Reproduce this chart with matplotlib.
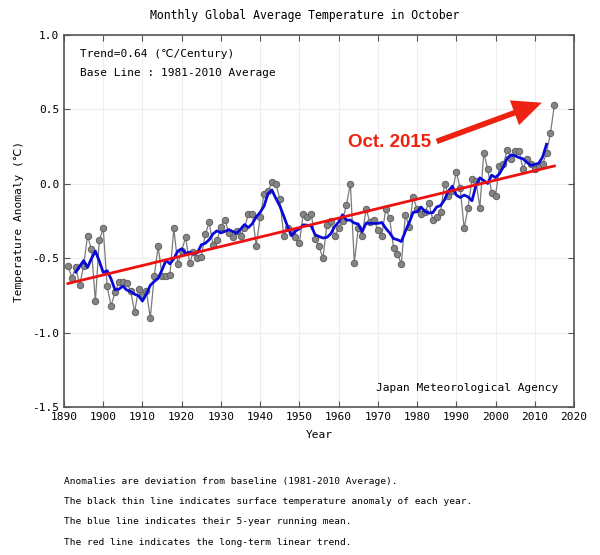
import numpy as np
import matplotlib
matplotlib.use('Agg')
from matplotlib import pyplot as plt

plt.rcParams['font.family'] = ['DejaVu Sans Mono', 'DejaVu Sans']

# October anomalies (deg C, vs 1981-2010)
years = list(range(1891, 2016))
anomaly = [
    -0.55, -0.63, -0.56, -0.68, -0.55, -0.35, -0.44, -0.79, -0.38, -0.30,   # 1891-1900
    -0.69, -0.82, -0.73, -0.66, -0.66, -0.67, -0.72, -0.86, -0.71, -0.75,   # 1901-1910
    -0.72, -0.90, -0.62, -0.42, -0.62, -0.62, -0.61, -0.30, -0.54, -0.45,   # 1911-1920
    -0.36, -0.53, -0.46, -0.50, -0.49, -0.34, -0.26, -0.41, -0.38, -0.29,   # 1921-1930
    -0.24, -0.33, -0.36, -0.32, -0.35, -0.30, -0.20, -0.20, -0.42, -0.22,   # 1931-1940
    -0.07, -0.05, 0.01, 0.00, -0.10, -0.35, -0.30, -0.33, -0.36, -0.40,     # 1941-1950
    -0.20, -0.22, -0.20, -0.37, -0.42, -0.50, -0.28, -0.25, -0.35, -0.30,   # 1951-1960
    -0.25, -0.14, 0.00, -0.53, -0.30, -0.35, -0.17, -0.26, -0.24, -0.31,    # 1961-1970
    -0.35, -0.17, -0.23, -0.43, -0.47, -0.54, -0.21, -0.29, -0.09, -0.17,   # 1971-1980
    -0.20, -0.19, -0.13, -0.24, -0.22, -0.19, 0.00, -0.08, -0.05, 0.08,     # 1981-1990
    -0.03, -0.30, -0.16, 0.03, 0.02, -0.16, 0.21, 0.10, -0.06, -0.08,       # 1991-2000
    0.12, 0.13, 0.23, 0.17, 0.22, 0.22, 0.10, 0.17, 0.13, 0.10,             # 2001-2010
    0.12, 0.13, 0.21, 0.34, 0.53,                                           # 2011-2015
]

# long-term linear trend end points
trend_years = [1891, 2015]
trend_values = [-0.67, 0.12]

# 5-year running mean (centred)
running = np.convolve(anomaly, np.ones(5) / 5, mode='valid')
running_years = years[2:-2]

xticks = list(range(1890, 2021, 10))
yticks = [-1.5, -1.0, -0.5, 0.0, 0.5, 1.0]

fig = plt.figure(figsize=(6.0, 5.55), dpi=100)
ax = fig.add_axes([64 / 600, 1 - 407 / 555, 510 / 600, 372 / 555])

ax.plot(years, anomaly, color='#7a7a7a', lw=0.9, marker='o', ms=4.6,
        mfc='#858585', mec='#606060', mew=0.7, zorder=2)
ax.plot(running_years, running, color='#0a0ad8', lw=2.0, zorder=3)
ax.plot(trend_years, trend_values, color='#ee1111', lw=2.0, zorder=4)

ax.set_xlim(1890, 2020)
ax.set_ylim(-1.5, 1.0)
ax.set_xticks(xticks)
ax.set_yticks(yticks)
ax.set_yticklabels(['%.1f' % v for v in yticks])
ax.tick_params(direction='in', top=True, right=True, length=4,
               labelsize=8, color='#555555')
ax.grid(True, color='#eeeeee', lw=0.8)
ax.set_axisbelow(True)
for s in ax.spines.values():
    s.set_color('#555555')
    s.set_linewidth(1.2)

ax.set_xlabel('Year', fontsize=8, labelpad=6)
ax.set_ylabel('Temperature Anomaly (℃)', fontsize=8, labelpad=6)
fig.text(305 / 600, 1 - 16 / 555, 'Monthly Global Average Temperature in October',
         ha='center', va='center', fontsize=8.3)

ax.text(0.032, 0.95, 'Trend=0.64 (℃/Century)', transform=ax.transAxes,
        fontsize=8, va='center')
ax.text(0.032, 0.898, 'Base Line : 1981-2010 Average', transform=ax.transAxes,
        fontsize=8, va='center')
ax.text(0.97, 0.052, 'Japan Meteorological Agency', transform=ax.transAxes,
        fontsize=8, ha='right', va='center')

# callout for the record value
ax.text(1962.3, 0.28, 'Oct. 2015', color='#ee2211', fontsize=13.5,
        fontweight='bold', family='Liberation Sans', va='center', zorder=5)
ax.annotate('', xy=(2011.8, 0.545), xytext=(1985.0, 0.285),
            arrowprops=dict(arrowstyle='simple,head_length=1.05,head_width=0.95,tail_width=0.2',
                            mutation_scale=20, color='#ee2211', lw=0,
                            shrinkA=0, shrinkB=0),
            zorder=5)

notes = [
    'Anomalies are deviation from baseline (1981-2010 Average).',
    'The black thin line indicates surface temperature anomaly of each year.',
    'The blue line indicates their 5-year running mean.',
    'The red line indicates the long-term linear trend.',
]
for i, line in enumerate(notes):
    fig.text(64 / 600, 1 - (481 + 20.5 * i) / 555, line, fontsize=6.8,
             va='center')

fig.savefig('out.png', dpi=100)
